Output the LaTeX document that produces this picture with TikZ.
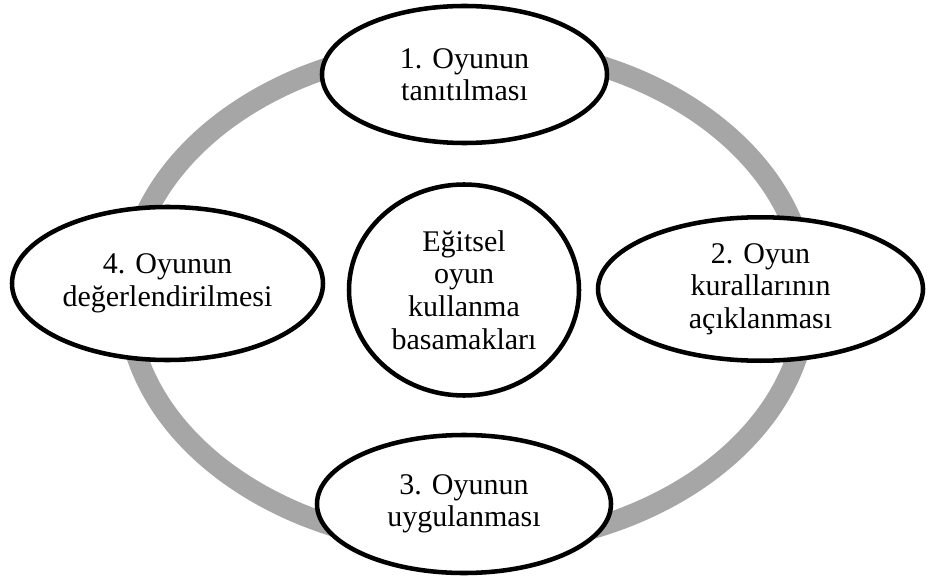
\documentclass[tikz,border=0pt]{standalone}
\usepackage{fontspec}
\setmainfont{Liberation Serif}
\usetikzlibrary{shapes.geometric}
\definecolor{ringgray}{RGB}{166,166,166}
\begin{document}
\begin{tikzpicture}[x=0.75pt, y=-0.75pt,
    stage/.style={draw, ellipse, line width=3.4pt, fill=white, align=center, inner sep=0pt,
                  font=\fontsize{22.5pt}{24.4pt}\selectfont}]
    \useasboundingbox (0,0) rectangle (928,581);

    % Gray cycle ring behind the stages
    \coordinate (hub) at (467,296);
    \draw[ringgray, line width=15.75pt] (hub) ellipse [x radius=340, y radius=250];

    % Centre circle
    \node[stage, minimum width=172.5pt, minimum height=158.25pt] (core) at (464,290) {Eğitsel\\oyun\\kullanma\\basamakları};

    % Stage 1 - top
    \node[stage, minimum width=213.75pt, minimum height=102.75pt] (intro) at (464.5,74.5) {1. Oyunun\\tanıtılması};

    % Stage 2 - right
    \node[stage, minimum width=243.75pt, minimum height=107.6pt] (rules) at (760.5,289) {2. Oyun\\kurallarının\\açıklanması};

    % Stage 3 - bottom
    \node[stage, minimum width=220.5pt, minimum height=103.5pt] (play) at (464,504) {3. Oyunun\\uygulanması};

    % Stage 4 - left
    \node[stage, minimum width=233.25pt, minimum height=114.75pt] (review) at (167.5,283.5) {4. Oyunun\\değerlendirilmesi};
\end{tikzpicture}
\end{document}
